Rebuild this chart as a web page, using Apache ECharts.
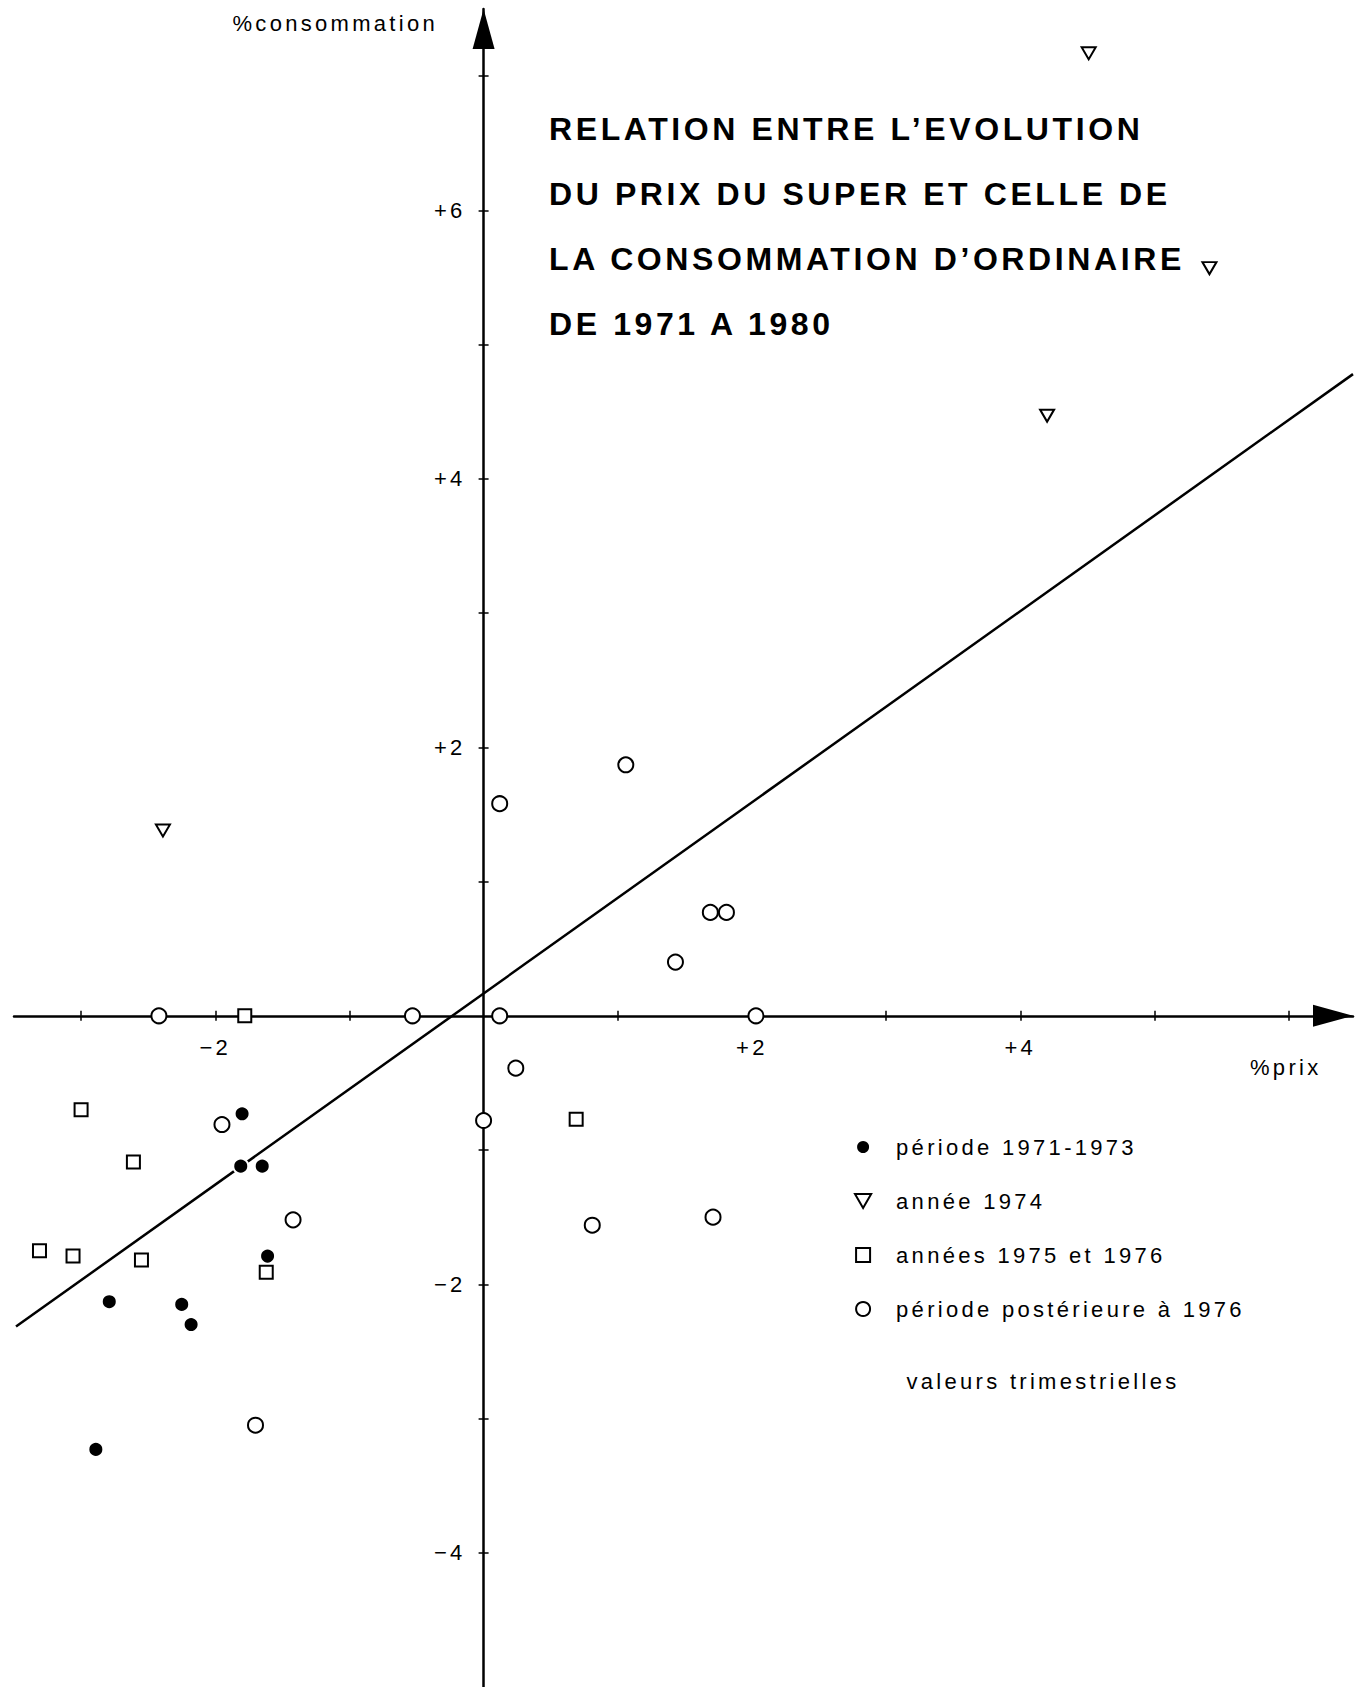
<!DOCTYPE html>
<html lang="fr">
<head>
<meta charset="UTF-8">
<title>Prix du super et consommation d'ordinaire 1971-1980</title>
<script src="https://cdn.jsdelivr.net/npm/echarts@6.0.0/dist/echarts.min.js"></script>
<style>
    html, body { margin: 0; padding: 0; background: #fff; }
    #chart { width: 1362px; height: 1687px; }
    /* lettrage ancien, tres espace */
    #chart svg text { letter-spacing: 3.3px; }
    #chart svg text[style*="bold"] { letter-spacing: 3.6px; }
</style>
</head>
<body>
<div id="chart"></div>
<script>
    // graduations
    var xTicks = [-3, -2, -1, 1, 2, 3, 4, 5, 6];
    var xLabels = [-2, 2, 4];
    var yTicks = [-4, -3, -2, -1, 1, 2, 3, 4, 5, 6, 7];
    var yLabels = [-4, -2, 2, 4, 6];

    // [%prix, %consommation], valeurs trimestrielles
    var p7173 = [[-1.80, -0.73], [-1.81, -1.12], [-1.65, -1.12], [-1.61, -1.79],
                 [-2.79, -2.13], [-2.25, -2.15], [-2.18, -2.30], [-2.89, -3.23]];
    var a1974 = [[4.51, 7.17], [5.41, 5.57], [4.20, 4.47], [-2.39, 1.38]];
    var a7576 = [[-1.78, 0], [-3.00, -0.70], [-2.61, -1.09], [-3.31, -1.75],
                 [-3.06, -1.79], [-2.55, -1.82], [-1.62, -1.91], [0.69, -0.77]];
    var post76 = [[-2.42, 0], [-0.53, 0], [0.12, 0], [2.03, 0], [0.12, 1.58],
                  [1.06, 1.87], [1.69, 0.77], [1.81, 0.77], [1.43, 0.40], [0.24, -0.39],
                  [0.00, -0.78], [-1.95, -0.81], [-1.42, -1.52], [0.81, -1.56],
                  [1.71, -1.50], [-1.70, -3.05]];
    // droite d'ajustement
    var fitLine = [[-3.485, -2.315], [6.48, 4.78]];

    var names = ['période 1971-1973', 'année 1974', 'années 1975 et 1976', 'période postérieure à 1976'];
    var titleLines = ['RELATION ENTRE L\u2019EVOLUTION', 'DU PRIX DU SUPER ET CELLE DE',
                      'LA CONSOMMATION D\u2019ORDINAIRE', 'DE 1971 A 1980'];

    var FONT = "'Liberation Sans', Arial, Helvetica, sans-serif";
    var W = 1362, H = 1687;

    // cadre : les axes se croisent en 0, on les place avec offset
    var xMin = -3.5, xMax = 6.48, yMin = -5, yMax = 7.5;
    var gLeft = 14, gRight = 9, gTop = 9, gBottom = 0;
    var gW = W - gLeft - gRight, gH = H - gTop - gBottom;
    var zeroX = gLeft + gW * (0 - xMin) / (xMax - xMin);
    var zeroY = gTop + gH * yMax / (yMax - yMin);

    function signed(v) {
        return v > 0 ? '+' + v : '\u2212' + Math.abs(v);
    }

    var tickStyle = {color: '#000', width: 1.5};
    var labelStyle = {color: '#000', fontFamily: FONT, fontSize: 22};
    var arrowLine = {onZero: false, symbol: ['none', 'triangle'], symbolSize: [22, 40], symbolOffset: [0, -20],
                     lineStyle: {color: '#000', width: 2.5}};

    var chart = echarts.init(document.getElementById('chart'), null, {renderer: 'svg'});
    chart.setOption({
        animation: false,
        backgroundColor: '#fff',
        title: {
            text: titleLines.join('\n'),
            left: 549,
            top: 96,
            padding: 0,
            textStyle: {fontFamily: FONT, fontSize: 32, fontWeight: 'bold', color: '#000', lineHeight: 65}
        },
        grid: {left: gLeft, right: gRight, top: gTop, bottom: gBottom, containLabel: false, outerBoundsMode: 'none'},
        xAxis: [{
            type: 'value', position: 'bottom', min: xMin, max: xMax,
            offset: -(H - gBottom - zeroY),
            axisLine: arrowLine,
            axisTick: {customValues: xTicks, length: 5, lineStyle: tickStyle},
            axisLabel: Object.assign({customValues: xLabels, formatter: signed, margin: 21}, labelStyle),
            splitLine: {show: false}
        }, {
            // second axe : graduations vers le haut
            type: 'value', position: 'top', min: xMin, max: xMax,
            offset: -(zeroY - gTop),
            axisLine: {show: false, onZero: false},
            axisTick: {customValues: xTicks, length: 5, lineStyle: tickStyle},
            axisLabel: {show: false},
            splitLine: {show: false}
        }],
        yAxis: [{
            type: 'value', position: 'left', min: yMin, max: yMax,
            offset: -(zeroX - gLeft),
            axisLine: arrowLine,
            axisTick: {customValues: yTicks, length: 5, lineStyle: tickStyle},
            axisLabel: Object.assign({customValues: yLabels, formatter: signed, margin: 18}, labelStyle),
            splitLine: {show: false}
        }, {
            type: 'value', position: 'right', min: yMin, max: yMax,
            offset: -(W - gRight - zeroX),
            axisLine: {show: false, onZero: false},
            axisTick: {customValues: yTicks, length: 5, lineStyle: tickStyle},
            axisLabel: {show: false},
            splitLine: {show: false}
        }],
        legend: {
            data: names,
            orient: 'vertical',
            left: 854,
            top: 1136,
            padding: 0,
            itemWidth: 56,
            itemHeight: 14,
            itemGap: 32,
            selectedMode: false,
            textStyle: {fontFamily: FONT, fontSize: 22, color: '#000', lineHeight: 22}
        },
        graphic: [
            {type: 'text', x: 438, y: 23, style: {text: '%consommation', fill: '#000', font: '22px ' + FONT,
                align: 'right', verticalAlign: 'middle', textAlign: 'right', textVerticalAlign: 'middle'}},
            {type: 'text', x: 1250, y: 1067, style: {text: '%prix', fill: '#000', font: '22px ' + FONT,
                align: 'left', verticalAlign: 'middle', textAlign: 'left', textVerticalAlign: 'middle'}},
            {type: 'text', x: 1043, y: 1381, style: {text: 'valeurs trimestrielles', fill: '#000', font: '22px ' + FONT,
                align: 'center', verticalAlign: 'middle', textAlign: 'center', textVerticalAlign: 'middle'}}
        ],
        series: [{
            type: 'line',
            data: fitLine,
            symbol: 'none',
            clip: false,
            silent: true,
            z: 1,
            lineStyle: {color: '#000', width: 2.5}
        }, {
            name: names[0], type: 'scatter', data: p7173, z: 4,
            symbol: 'circle', symbolSize: 15,
            itemStyle: {color: '#000', borderColor: '#fff', borderWidth: 2, opacity: 1}
        }, {
            name: names[1], type: 'scatter', data: a1974, z: 4,
            symbol: 'path://M0,0L10,0L5,8.66Z', symbolSize: [14, 12],
            itemStyle: {color: '#fff', borderColor: '#000', borderWidth: 2, opacity: 1}
        }, {
            name: names[2], type: 'scatter', data: a7576, z: 4,
            symbol: 'path://M0,0H10V10H0Z', symbolSize: 13,
            itemStyle: {color: '#fff', borderColor: '#000', borderWidth: 2, opacity: 1}
        }, {
            name: names[3], type: 'scatter', data: post76, z: 4,
            symbol: 'circle', symbolSize: 15,
            itemStyle: {color: '#fff', borderColor: '#000', borderWidth: 2, opacity: 1}
        }]
    });
</script>
</body>
</html>
